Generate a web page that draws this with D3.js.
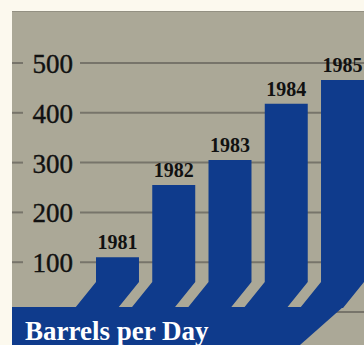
<!DOCTYPE html>
<html>
<head>
<meta charset="utf-8">
<script src="https://cdn.jsdelivr.net/npm/d3@7/dist/d3.min.js"></script>
<style>
  html, body { margin: 0; padding: 0; background: #fcf9ee; }
  svg { display: block; }
</style>
</head>
<body>
<svg id="chart" width="364" height="345"></svg>
<script>
// Oil output, thousand barrels per day
const years = ["1981", "1982", "1983", "1984", "1985"];
const barrels = [110, 255, 305, 418, 466];
const tickValues = [0, 100, 200, 300, 400, 500];
const tickLabels = ["", "100", "200", "300", "400", "500"];
const unitLabel = "Barrels per Day";

const W = 364, H = 345;
const panel = { left: 12, top: 11 };
const blue = "#0f3b8c";
const gray = "#aba897";
const gridColor = "#77746a";

const svg = d3.select("#chart");

// backdrop panel
svg.append("rect")
  .attr("x", panel.left).attr("y", panel.top)
  .attr("width", W - panel.left).attr("height", H - panel.top)
  .attr("fill", gray);
svg.append("line")
  .attr("x1", panel.left).attr("x2", W)
  .attr("y1", panel.top + 0.5).attr("y2", panel.top + 0.5)
  .attr("stroke", "#939082").attr("stroke-width", 1);

const y = d3.scaleLinear().domain([0, 500]).range([312, 63]);
const x = d3.scaleBand().domain(years).range([96, 364])
  .paddingInner(0.236).paddingOuter(0);

// grid lines with short ticks at the left edge
const grid = svg.append("g");
tickValues.forEach(v => {
  grid.append("line")
    .attr("x1", 80).attr("x2", W)
    .attr("y1", y(v)).attr("y2", y(v))
    .attr("stroke", gridColor).attr("stroke-width", 2);
  grid.append("line")
    .attr("x1", panel.left).attr("x2", 23)
    .attr("y1", y(v)).attr("y2", y(v))
    .attr("stroke", gridColor).attr("stroke-width", 2);
});

// axis numbers
svg.append("g").selectAll("text")
  .data(tickValues.filter(v => v > 0))
  .join("text")
  .attr("x", 73)
  .attr("y", v => y(v) + 1)
  .attr("text-anchor", "end")
  .attr("dominant-baseline", "central")
  .attr("font-family", "'Liberation Serif', 'DejaVu Serif', serif")
  .attr("font-size", 27)
  .attr("fill", "#111111")
  .attr("stroke", "#111111")
  .attr("stroke-width", 0.4)
  .text(v => tickLabels[tickValues.indexOf(v)]);

// bars: upright column that kinks down-left into the base band
const bendY = y(60);
const bandTop = y(10);
const shift = 21;
const bars = svg.append("g");
years.forEach((yr, i) => {
  const x0 = x(yr), x1 = x(yr) + x.bandwidth();
  const top = y(barrels[i]);
  const pts = [
    [x0, top], [x1, top], [x1, bendY],
    [x1 - shift, bandTop + 1], [x0 - shift, bandTop + 1], [x0, bendY]
  ];
  bars.append("path")
    .attr("d", d3.line()(pts) + "Z")
    .attr("fill", blue);
});

// base band, ending in a long diagonal below the last bar
const lastRight = x(years[years.length - 1]) + x.bandwidth();
const band = [
  [panel.left, bandTop], [lastRight - shift, bandTop],
  [300, H], [panel.left, H]
];
svg.append("path")
  .attr("d", d3.line()(band) + "Z")
  .attr("fill", blue);

// year labels over each bar
svg.append("g").selectAll("text")
  .data(years)
  .join("text")
  .attr("x", d => x(d) + x.bandwidth() / 2)
  .attr("y", (d, i) => y(barrels[i]) - 8)
  .attr("text-anchor", "middle")
  .attr("font-family", "'Liberation Serif', 'DejaVu Serif', serif")
  .attr("font-weight", "bold")
  .attr("font-size", 20)
  .attr("fill", "#111111")
  .text(d => d);

// unit caption in the band
svg.append("text")
  .attr("x", 25).attr("y", 340)
  .attr("font-family", "'Liberation Serif', 'DejaVu Serif', serif")
  .attr("font-weight", "bold")
  .attr("font-size", 27)
  .attr("fill", "#ffffff")
  .text(unitLabel);
</script>
</body>
</html>
